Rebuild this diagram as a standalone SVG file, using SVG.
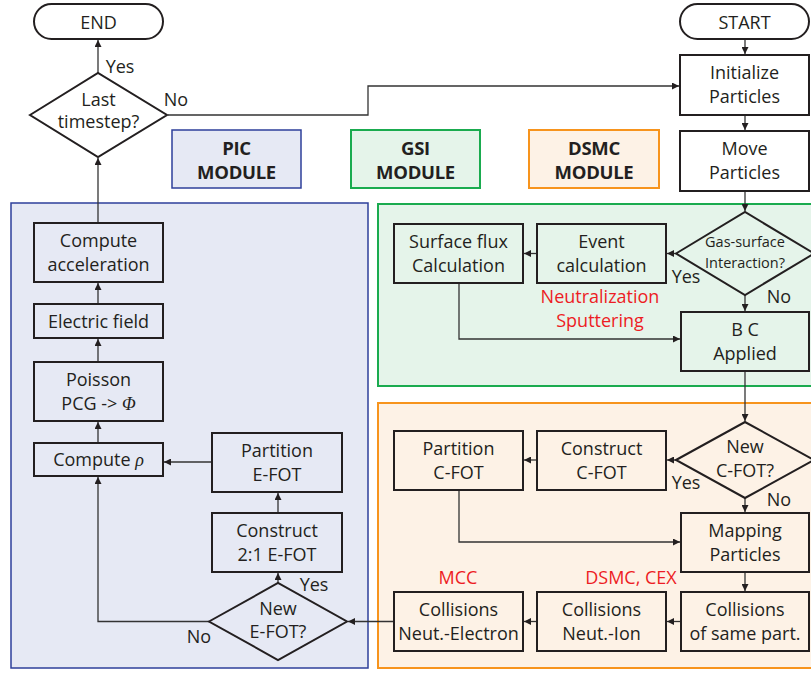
<svg xmlns="http://www.w3.org/2000/svg" width="811" height="675" viewBox="0 0 811 675">
<style>
text{font-family:"Open Sans","Noto Sans","DejaVu Sans",sans-serif;font-size:18px;fill:#231f20;text-anchor:middle}
.n{fill:none;stroke:#231f20;stroke-width:2}
.w{fill:#fff;stroke:#231f20;stroke-width:2}
.t{font-weight:bold;font-size:18.5px;letter-spacing:-0.3px}
.s{font-size:14.5px}
.r{fill:#ed1c24}
.c{fill:none;stroke:#333;stroke-width:1.3}
</style>
<defs>
<marker id="a" viewBox="0 0 10 10" refX="10" refY="5" markerWidth="7" markerHeight="7" markerUnits="userSpaceOnUse" orient="auto"><path d="M0,0L10,5L0,10z" fill="#231f20"/></marker>
</defs>
<g id="panels">
<rect x="11" y="203" width="357" height="465" fill="#e6e9f4" stroke="#2e3f9a" stroke-width="1.5"/>
<rect x="378" y="204" width="434" height="182" fill="#e5f4ea" stroke="#1aab4f" stroke-width="2"/>
<rect x="378" y="403" width="434" height="265" fill="#fdf2e6" stroke="#f7941d" stroke-width="2"/>
</g>
<g id="pic-title"><rect x="172" y="130" width="129" height="58" fill="#e6e9f4" stroke="#2e3f9a" stroke-width="1.5"/><text class="t" x="236.5" y="155">PIC</text><text class="t" x="236.5" y="179">MODULE</text></g>
<g id="gsi-title"><rect x="351" y="130" width="129" height="58" fill="#e5f4ea" stroke="#1aab4f" stroke-width="2"/><text class="t" x="415.5" y="155">GSI</text><text class="t" x="415.5" y="179">MODULE</text></g>
<g id="dsmc-title"><rect x="529" y="130" width="130" height="58" fill="#fdf2e6" stroke="#f7941d" stroke-width="2"/><text class="t" x="594" y="155">DSMC</text><text class="t" x="594" y="179">MODULE</text></g>
<g id="connectors">
<path class="c" d="M98,73V40" marker-end="url(#a)"/>
<path class="c" d="M168,115H368V86H679" marker-end="url(#a)"/>
<path class="c" d="M745,39V54" marker-end="url(#a)"/>
<path class="c" d="M745,115V130" marker-end="url(#a)"/>
<path class="c" d="M745,191V211" marker-end="url(#a)"/>
<path class="c" d="M676,253.5H667" marker-end="url(#a)"/>
<path class="c" d="M537,253.5H524" marker-end="url(#a)"/>
<path class="c" d="M459,283V339H680" marker-end="url(#a)"/>
<path class="c" d="M745,295V311" marker-end="url(#a)"/>
<path class="c" d="M745,371V421" marker-end="url(#a)"/>
<path class="c" d="M676,460H667" marker-end="url(#a)"/>
<path class="c" d="M537,460H524" marker-end="url(#a)"/>
<path class="c" d="M459,490V542H680" marker-end="url(#a)"/>
<path class="c" d="M745,498V512" marker-end="url(#a)"/>
<path class="c" d="M745,572V591" marker-end="url(#a)"/>
<path class="c" d="M681,621.5H667" marker-end="url(#a)"/>
<path class="c" d="M537,621.5H524" marker-end="url(#a)"/>
<path class="c" d="M394,621.5H348" marker-end="url(#a)"/>
<path class="c" d="M278,583V573" marker-end="url(#a)"/>
<path class="c" d="M278,513V493" marker-end="url(#a)"/>
<path class="c" d="M212,462H164" marker-end="url(#a)"/>
<path class="c" d="M209,621.5H98V477" marker-end="url(#a)"/>
<path class="c" d="M98,443V422" marker-end="url(#a)"/>
<path class="c" d="M98,362V339" marker-end="url(#a)"/>
<path class="c" d="M98,304V283" marker-end="url(#a)"/>
<path class="c" d="M98,223V158" marker-end="url(#a)"/>
<text x="120" y="73">Yes</text>
<text x="176" y="106">No</text>
<text x="686" y="283">Yes</text>
<text x="779" y="303">No</text>
<text x="686" y="489">Yes</text>
<text x="779" y="506">No</text>
<text x="314" y="591">Yes</text>
<text x="199" y="643">No</text>
</g>
<g id="end"><rect class="w" x="34" y="4" width="129" height="35" rx="17.5"/><text x="98.5" y="28.5">END</text></g>
<g id="start"><rect class="w" x="680" y="4" width="129" height="35" rx="17.5"/><text x="744.5" y="28.5">START</text></g>
<g id="last-timestep"><path class="w" d="M30,115L98,73L167,115L98,157z"/><text x="98.5" y="106">Last</text><text x="98.5" y="128">timestep?</text></g>
<g id="initialize"><rect class="w" x="680" y="55" width="129" height="60"/><text x="744.5" y="79">Initialize</text><text x="744.5" y="103">Particles</text></g>
<g id="move"><rect class="w" x="680" y="131" width="129" height="60"/><text x="744.5" y="155">Move</text><text x="744.5" y="179">Particles</text></g>
<g id="compute-acc"><rect class="n" x="34" y="223" width="129" height="59"/><text x="98.5" y="246.5">Compute</text><text x="98.5" y="270.5">acceleration</text></g>
<g id="electric"><rect class="n" x="34" y="304" width="129" height="34"/><text x="98.5" y="327.5">Electric field</text></g>
<g id="poisson"><rect class="n" x="34" y="362" width="129" height="59"/><text x="98.5" y="385.5">Poisson</text><text x="98.5" y="409.5">PCG -&gt; <tspan font-family="'Liberation Serif',serif" font-style="italic">Φ</tspan></text></g>
<g id="compute-rho"><rect class="n" x="34" y="443" width="129" height="33"/><text x="98.5" y="466">Compute <tspan font-family="'Liberation Serif',serif" font-style="italic">ρ</tspan></text></g>
<g id="partition-efot"><rect class="n" x="212" y="433" width="130" height="59"/><text x="277" y="456.5">Partition</text><text x="277" y="480.5">E-FOT</text></g>
<g id="construct-efot"><rect class="n" x="212" y="513" width="130" height="59"/><text x="277" y="536.5">Construct</text><text x="277" y="560.5">2:1 E-FOT</text></g>
<g id="new-efot"><path class="n" d="M209,621.5L278,583L347,621.5L278,660z"/><text x="278" y="615">New</text><text x="278" y="638">E-FOT?</text></g>
<g id="surface-flux"><rect class="n" x="394" y="224" width="129" height="59"/><text x="458.5" y="247.5">Surface flux</text><text x="458.5" y="271.5">Calculation</text></g>
<g id="event"><rect class="n" x="537" y="224" width="129" height="59"/><text x="601.5" y="247.5">Event</text><text x="601.5" y="271.5">calculation</text></g>
<g id="gas-surface"><path class="n" d="M676,253.5L745,212L814,253.5L745,295z"/><text class="s" x="745" y="247">Gas-surface</text><text class="s" x="745" y="267.5">Interaction?</text></g>
<g id="gsi-label"><text class="r" x="600" y="303">Neutralization</text><text class="r" x="600" y="327">Sputtering</text></g>
<g id="bc"><rect class="n" x="681" y="312" width="128" height="59"/><text x="745" y="335.5">B C</text><text x="745" y="359.5">Applied</text></g>
<g id="partition-cfot"><rect class="n" x="394" y="431" width="129" height="59"/><text x="458.5" y="454.5">Partition</text><text x="458.5" y="478.5">C-FOT</text></g>
<g id="construct-cfot"><rect class="n" x="537" y="431" width="129" height="59"/><text x="601.5" y="454.5">Construct</text><text x="601.5" y="478.5">C-FOT</text></g>
<g id="new-cfot"><path class="n" d="M676,460L745,422L814,460L745,498z"/><text x="745" y="453">New</text><text x="745" y="477">C-FOT?</text></g>
<g id="mapping"><rect class="n" x="681" y="513" width="128" height="59"/><text x="745" y="536.5">Mapping</text><text x="745" y="560.5">Particles</text></g>
<g id="coll-same"><rect class="n" x="681" y="592" width="128" height="59"/><text x="745" y="615.5">Collisions</text><text x="745" y="639.5">of same part.</text></g>
<g id="coll-ion"><rect class="n" x="537" y="592" width="129" height="59"/><text x="601.5" y="615.5">Collisions</text><text x="601.5" y="639.5">Neut.-Ion</text></g>
<g id="coll-electron"><rect class="n" x="394" y="592" width="129" height="59"/><text x="458.5" y="615.5">Collisions</text><text x="458.5" y="639.5">Neut.-Electron</text></g>
<g id="dsmc-labels"><text class="r" x="458" y="584">MCC</text><text class="r" x="631" y="584">DSMC, CEX</text></g>
</svg>
